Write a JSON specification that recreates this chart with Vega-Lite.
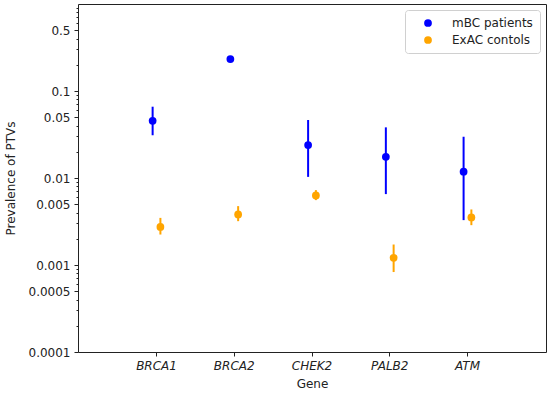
{
  "$schema": "https://vega.github.io/schema/vega-lite/v6.json",
  "width": 468,
  "height": 348,
  "autosize": {"type": "none"},
  "padding": {"left": 78, "top": 4, "right": 4, "bottom": 43},
  "config": {
    "font": "DejaVu Sans",
    "view": {"stroke": "#222", "strokeWidth": 1},
    "axis": {"grid": false, "domainColor": "#222", "tickColor": "#222", "labelColor": "#222", "titleColor": "#222", "labelFontSize": 12, "titleFontSize": 12, "titleFontWeight": "normal", "tickSize": 4, "labelPadding": 4}
  },
  "data": {
    "values": [
      {"gene": "BRCA1", "group": "mBC patients", "value": 0.0455, "lo": 0.031, "hi": 0.066},
      {"gene": "BRCA2", "group": "mBC patients", "value": 0.233, "lo": 0.215, "hi": 0.252},
      {"gene": "CHEK2", "group": "mBC patients", "value": 0.0239, "lo": 0.0103, "hi": 0.0464},
      {"gene": "PALB2", "group": "mBC patients", "value": 0.0175, "lo": 0.00653, "hi": 0.0382},
      {"gene": "ATM", "group": "mBC patients", "value": 0.0118, "lo": 0.00328, "hi": 0.0298},
      {"gene": "BRCA1", "group": "ExAC contols", "value": 0.00274, "lo": 0.00224, "hi": 0.00348},
      {"gene": "BRCA2", "group": "ExAC contols", "value": 0.00381, "lo": 0.00319, "hi": 0.00475},
      {"gene": "CHEK2", "group": "ExAC contols", "value": 0.0063, "lo": 0.00557, "hi": 0.00726},
      {"gene": "PALB2", "group": "ExAC contols", "value": 0.00121, "lo": 0.00083, "hi": 0.00172},
      {"gene": "ATM", "group": "ExAC contols", "value": 0.00352, "lo": 0.00287, "hi": 0.00435}
    ]
  },
  "encoding": {
    "x": {
      "field": "gene", "type": "nominal", "sort": ["BRCA1", "BRCA2", "CHEK2", "PALB2", "ATM"],
      "scale": {"paddingInner": 0.8, "paddingOuter": 0.91},
      "axis": {"title": "Gene", "labelAngle": 0, "labelFontStyle": "italic", "domain": false, "titlePadding": 7}
    },
    "xOffset": {"field": "group", "type": "nominal", "sort": ["mBC patients", "ExAC contols"], "scale": {"domain": ["mBC patients", "ExAC contols"], "paddingInner": 0, "paddingOuter": 0}},
    "color": {
      "field": "group", "type": "nominal",
      "scale": {"domain": ["mBC patients", "ExAC contols"], "range": ["#0000ff", "#ffa500"]},
      "legend": {"title": null, "orient": "top-right", "offset": 6, "strokeColor": "#d0d0d0", "fillColor": "white", "cornerRadius": 3, "padding": 7, "symbolType": "circle", "symbolSize": 60, "symbolOpacity": 1, "symbolStrokeWidth": 0, "labelFontSize": 12, "labelColor": "#222", "labelOffset": 18, "rowPadding": 5, "symbolOffset": 10}
    }
  },
  "resolve": {"axis": {"y": "independent"}},
  "layer": [
    {
      "mark": {"type": "rule", "strokeWidth": 2},
      "encoding": {
        "y": {
          "field": "lo", "type": "quantitative",
          "scale": {"type": "log", "domain": [0.0001, 1], "nice": false},
          "axis": {"orient": "left", "title": null, "labels": false, "domain": false, "tickSize": 2, "values": [0.0002, 0.0003, 0.0004, 0.0006, 0.0007, 0.0008, 0.0009, 0.002, 0.003, 0.004, 0.006, 0.007, 0.008, 0.009, 0.02, 0.03, 0.04, 0.06, 0.07, 0.08, 0.09, 0.2, 0.3, 0.4, 0.6, 0.7, 0.8, 0.9]}
        },
        "y2": {"field": "hi"}
      }
    },
    {
      "mark": {"type": "point", "filled": true, "opacity": 1, "size": 60},
      "encoding": {
        "y": {
          "field": "value", "type": "quantitative",
          "scale": {"type": "log", "domain": [0.0001, 1], "nice": false},
          "axis": {"orient": "left", "title": "Prevalence of PTVs", "domain": false, "values": [0.0001, 0.0005, 0.001, 0.005, 0.01, 0.05, 0.1, 0.5], "format": "~g", "titlePadding": 11}
        }
      }
    }
  ]
}
